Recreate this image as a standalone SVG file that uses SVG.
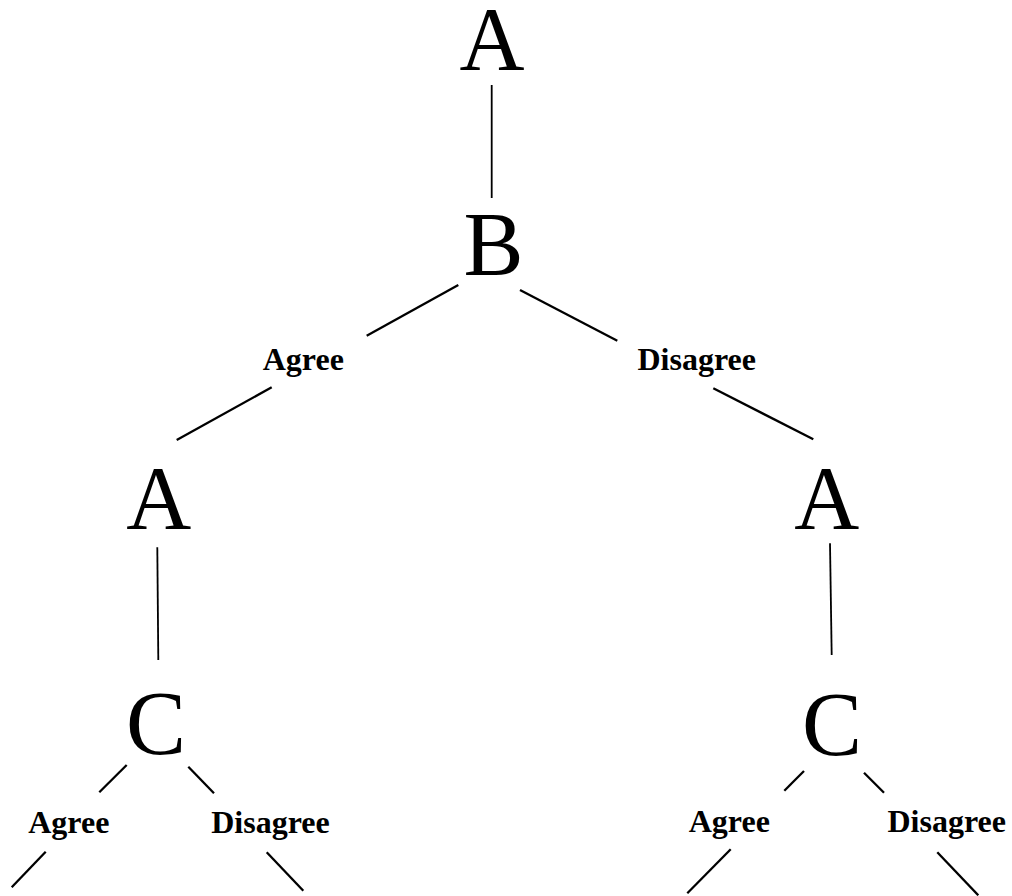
<svg xmlns="http://www.w3.org/2000/svg" width="1012" height="896" viewBox="0 0 1012 896">
<style>
.big{font-family:"Liberation Serif","Times New Roman",serif;font-size:90px;fill:#000;text-anchor:middle}
.lbl{font-family:"Liberation Serif","Times New Roman",serif;font-size:32px;font-weight:bold;fill:#000;text-anchor:middle}
.e{stroke:#000;stroke-width:2.3;fill:none}
.v{stroke:#000;stroke-width:1.8;fill:none}
</style>
<rect width="1012" height="896" fill="#fff"/>
<g id="connectors">
<line class="v" x1="491.7" y1="85" x2="491.7" y2="198"/>
<line class="e" x1="458.3" y1="285" x2="366.7" y2="335.7"/>
<line class="e" x1="271.7" y1="387.3" x2="176.7" y2="440"/>
<line class="e" x1="520" y1="290" x2="617.3" y2="340.7"/>
<line class="e" x1="713.3" y1="388.3" x2="813.3" y2="439.3"/>
<line class="v" x1="157.3" y1="547.3" x2="158.3" y2="660"/>
<line class="v" x1="830" y1="543.3" x2="831.7" y2="655"/>
<line class="e" x1="126.7" y1="765" x2="99.3" y2="792.3"/>
<line class="e" x1="188.3" y1="766.7" x2="214" y2="793.3"/>
<line class="e" x1="45.7" y1="851.7" x2="11.7" y2="887.3"/>
<line class="e" x1="266.7" y1="852.3" x2="303.3" y2="890.7"/>
<line class="e" x1="804" y1="771" x2="784.3" y2="790.7"/>
<line class="e" x1="864" y1="772.7" x2="884" y2="792.7"/>
<line class="e" x1="730.7" y1="849.3" x2="687.3" y2="893.3"/>
<line class="e" x1="937.3" y1="852.3" x2="978.3" y2="895.3"/>
</g>
<g id="label-b-agree"><text class="lbl" x="303.3" y="370">Agree</text></g>
<g id="label-b-disagree"><text class="lbl" x="696.7" y="370">Disagree</text></g>
<g id="label-cl-agree"><text class="lbl" x="68.8" y="833">Agree</text></g>
<g id="label-cl-disagree"><text class="lbl" x="270.5" y="833">Disagree</text></g>
<g id="label-cr-agree"><text class="lbl" x="729.3" y="832">Agree</text></g>
<g id="label-cr-disagree"><text class="lbl" x="946.7" y="832">Disagree</text></g>
<g id="node-a-top"><text class="big" x="492" y="70">A</text></g>
<g id="node-b"><text class="big" x="493.5" y="275">B</text></g>
<g id="node-a-left"><text class="big" x="158.7" y="529">A</text></g>
<g id="node-a-right"><text class="big" x="826.7" y="529">A</text></g>
<g id="node-c-left"><text class="big" x="156" y="754">C</text></g>
<g id="node-c-right"><text class="big" x="832" y="755">C</text></g>
</svg>
